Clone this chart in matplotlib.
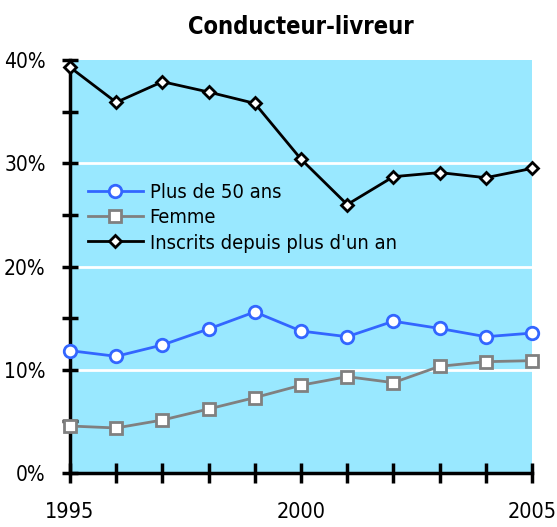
import numpy as np
import matplotlib.pyplot as plt
from matplotlib.ticker import MultipleLocator, FixedLocator

plt.rcParams['font.family'] = ['DejaVu Sans']
plt.rcParams['font.stretch'] = 'condensed'

# Data
years = [1995, 1996, 1997, 1998, 1999, 2000, 2001, 2002, 2003, 2004, 2005]
plus50 = [11.85, 11.3, 12.4, 13.95, 15.6, 13.75, 13.2, 14.7, 14.0, 13.2, 13.55]
femme = [4.55, 4.36, 5.13, 6.2, 7.3, 8.5, 9.33, 8.75, 10.33, 10.78, 10.88]
inscrits = [39.3, 35.9, 37.9, 36.9, 35.8, 30.4, 26.0, 28.7, 29.1, 28.6, 29.5]
year_labels = [1995, 2000, 2005]

fig = plt.figure(figsize=(5.57, 5.27), dpi=100)
ax = fig.add_axes([0.1257, 0.1025, 0.8294, 0.7836])
ax.set_facecolor('#99e8ff')

for v in [10, 20, 30]:
    ax.axhline(v, color='white', lw=2, zorder=1)

ax.plot(years, plus50, color='#3366ff', lw=2, marker='o', ms=9, clip_on=False,
        mfc='white', mec='#3366ff', mew=2, label='Plus de 50 ans', zorder=5)
ax.plot(years, femme, color='#808080', lw=2, marker='s', ms=9, clip_on=False,
        mfc='white', mec='#808080', mew=2, label='Femme', zorder=5)
ax.plot(years, inscrits, color='black', lw=2, marker='D', ms=6.5, clip_on=False,
        mfc='white', mec='black', mew=2, label="Inscrits depuis plus d'un an", zorder=5)

ax.set_xlim(1995, 2005)
ax.set_ylim(0, 40)
for s in ['top', 'right']:
    ax.spines[s].set_visible(False)
for s in ['left', 'bottom']:
    ax.spines[s].set_linewidth(2.5)
    ax.spines[s].set_zorder(4)

ax.yaxis.set_major_locator(MultipleLocator(10))
ax.yaxis.set_minor_locator(MultipleLocator(5))
ax.set_yticklabels([f'{int(v)}%' for v in ax.get_yticks()])
ax.xaxis.set_major_locator(FixedLocator(year_labels))
ax.xaxis.set_minor_locator(FixedLocator(years))
ax.tick_params(axis='y', which='both', direction='inout', length=11, width=2.5, color='black')
ax.tick_params(axis='x', which='both', direction='inout', length=14, width=2.5, color='black')
ax.tick_params(axis='y', which='major', labelsize=15, pad=12)
ax.tick_params(axis='x', which='major', labelsize=15.5, pad=14)

ax.set_title('Conducteur-livreur', fontsize=17, fontweight='bold', pad=19)

ax.legend(loc='upper left', bbox_to_anchor=(0.0, 0.745), frameon=False,
          fontsize=14.5, handlelength=2.7, labelspacing=0.3, borderaxespad=0.5,
          handletextpad=0.35)

fig.savefig('out.png', dpi=100)
